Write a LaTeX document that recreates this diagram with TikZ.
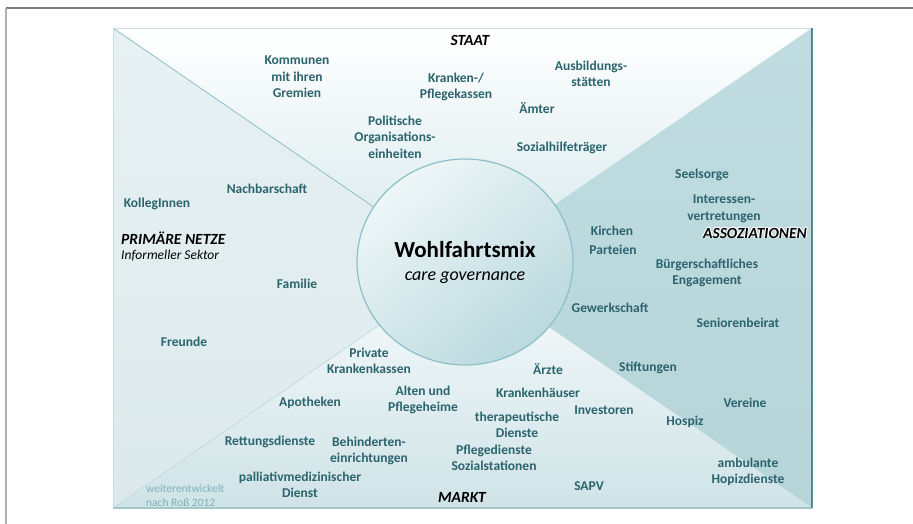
\documentclass[tikz,border=0pt]{standalone}
\usepackage{fontspec}
\setmainfont{Carlito}
\usetikzlibrary{shapes.geometric}
\definecolor{itemcol}{HTML}{2B646D}
\definecolor{notecol}{HTML}{7BB3BA}
\definecolor{framegray}{HTML}{7A7A7A}
\definecolor{topbot}{HTML}{D6E8EB}
\definecolor{lefttop}{HTML}{E7F1F3}
\definecolor{leftbot}{HTML}{DCE9EC}
\definecolor{righttop}{HTML}{C0DCE0}
\definecolor{rightmid}{HTML}{9CC3C9}
\definecolor{rightbot}{HTML}{B6D5D9}
\definecolor{bottop}{HTML}{F8FBFC}
\definecolor{botbot}{HTML}{CFE3E7}
\definecolor{rightedge}{HTML}{4E8B94}
\definecolor{bottomedge}{HTML}{A3C6CB}
\definecolor{edgelight}{HTML}{C9DFE2}
\definecolor{diag}{HTML}{8DBFC6}
\definecolor{circlight}{HTML}{EEF6F7}
\definecolor{circdark}{HTML}{BAD9DE}
\definecolor{circborder}{HTML}{8CC0C7}
\begin{document}
\begin{tikzpicture}[x=1pt,y=-1pt,
  item/.style={text=itemcol, font=\bfseries\fontsize{13.5}{16.5}\selectfont, align=center, inner sep=0pt},
  cat/.style={text=black, font=\bfseries\itshape\fontsize{15.5}{18}\selectfont, inner sep=0pt},
  note/.style={text=notecol, font=\fontsize{11.5}{14}\selectfont, align=left, inner sep=0pt},
  ]
\useasboundingbox (0,0) rectangle (913,524);
\fill[white] (0,0) rectangle (913,524);
% outer frame
\coordinate (F1) at (6,8);
\coordinate (F2) at (913,8);
\coordinate (F3) at (6,524);
\draw[framegray, line width=1.2pt] (F1) -- (F2);
\draw[framegray!60, line width=1.8pt] (F1) -- (F3);
% inner square corners
\coordinate (TL) at (113,28);
\coordinate (TR) at (812,28);
\coordinate (BR) at (812,508);
\coordinate (BL) at (113,508);
\coordinate (C) at (462.5,268);
% sectors
\shade[top color=white, bottom color=topbot] (TL) -- (TR) -- (C) -- cycle;
\shade[top color=lefttop, bottom color=leftbot] (TL) -- (C) -- (BL) -- cycle;
\shade[top color=righttop, middle color=rightmid, bottom color=rightbot] (TR) -- (BR) -- (C) -- cycle;
\shade[top color=bottop, bottom color=botbot] (BL) -- (C) -- (BR) -- cycle;
% diagonals
\draw[diag, line width=0.8pt] (TL) -- (C);
\draw[diag!60, line width=0.6pt] (BL) -- (C);
% borders
\draw[edgelight, line width=0.9pt] (BL) -- (TL) -- (TR);
\draw[bottomedge, line width=2pt] (BL) -- (BR);
\draw[rightedge, line width=2.6pt] (TR) -- (BR);
% central circle
\node[ellipse, minimum width=216pt, minimum height=206pt, draw=circborder, line width=1.2pt,
      top color=circlight, bottom color=circdark, shading angle=40] (hub) at (465,262) {};
\node[font=\bfseries\fontsize{23}{26}\selectfont, inner sep=0pt] (wm) at (465,250) {Wohlfahrtsmix};
\node[font=\itshape\fontsize{18}{20}\selectfont, inner sep=0pt] (cg) at (465,278) {care governance};
% category labels
\node[cat] (staat) at (470,40) {STAAT};
\node[cat, anchor=west] (prim) at (121,238) {PRIMÄRE NETZE};
\node[font=\itshape\fontsize{13.5}{16}\selectfont, inner sep=0pt, anchor=west] (inf) at (121,256) {Informeller Sektor};
\foreach \dx/\dy [count=\k] in {0.9/0,-0.9/0,0/0.9,0/-0.9,0.7/0.7,-0.7/0.7,0.7/-0.7,-0.7/-0.7}
  \node[cat, text=white] (glow\k) at (755+\dx,233+\dy) {ASSOZIATIONEN};
\node[cat] (asso) at (755,233) {ASSOZIATIONEN};
\node[cat] (markt) at (462,497) {MARKT};
% STAAT items
\node[item] (kom) at (297,77) {Kommunen\\mit ihren\\Gremien};
\node[item] (kkp) at (456,87) {Kranken-/\\Pflegekassen};
\node[item] (ausb) at (591,74) {Ausbildungs-\\stätten};
\node[item] (amt) at (537,108) {Ämter};
\node[item] (pol) at (395,137) {Politische\\Organisations-\\einheiten};
\node[item] (soz) at (562,148) {Sozialhilfeträger};
% PRIMAERE NETZE items
\node[item] (nach) at (267,189) {Nachbarschaft};
\node[item] (koll) at (157,204) {KollegInnen};
\node[item] (fam) at (297,284) {Familie};
\node[item] (freu) at (184,342) {Freunde};
% ASSOZIATIONEN items
\node[item] (seel) at (702,175) {Seelsorge};
\node[item] (inte) at (724,209) {Interessen-\\vertretungen};
\node[item] (kirc) at (612,231) {Kirchen};
\node[item] (part) at (613,250) {Parteien};
\node[item] (buer) at (707,273) {Bürgerschaftliches\\Engagement};
\node[item] (gew) at (610,308) {Gewerkschaft};
\node[item] (seni) at (738,323) {Seniorenbeirat};
\node[item] (stif) at (648,368) {Stiftungen};
\node[item] (vere) at (745,403) {Vereine};
\node[item] (hosp) at (685,422) {Hospiz};
\node[item] (amb) at (748,472) {ambulante\\Hopizdienste};
% MARKT items
\node[item] (priv) at (369,361) {Private\\Krankenkassen};
\node[item] (arzt) at (548,369) {Ärzte};
\node[item] (krh) at (538,393) {Krankenhäuser};
\node[item] (apo) at (310,403) {Apotheken};
\node[item] (alt) at (423,400) {Alten und\\Pflegeheime};
\node[item] (inv) at (604,410) {Investoren};
\node[item] (ther) at (517,425) {therapeutische\\Dienste};
\node[item] (rett) at (270,442) {Rettungsdienste};
\node[item] (beh) at (369,451) {Behinderten-\\einrichtungen};
\node[item] (pfl) at (494,458) {Pflegedienste\\Sozialstationen};
\node[item] (pall) at (300,485) {palliativmedizinischer\\Dienst};
\node[item] (sapv) at (589,486) {SAPV};
\node[note, anchor=west] (weit) at (146,496) {weiterentwickelt\\nach Roß 2012};
\end{tikzpicture}
\end{document}
